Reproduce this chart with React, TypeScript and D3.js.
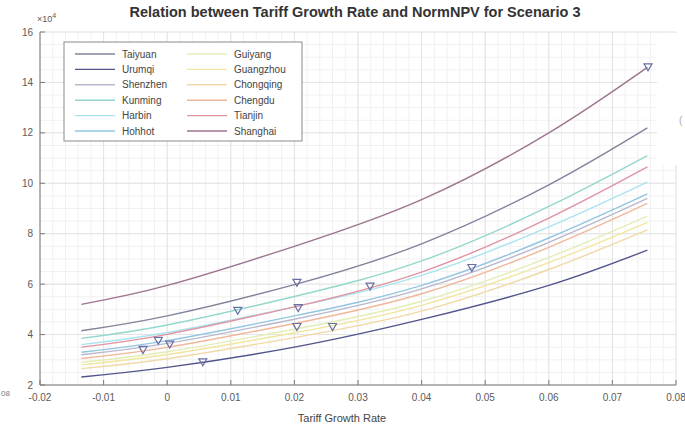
import React from "react";
import * as d3 from "d3";

// tariff growth rates sampled along each curve
const rates = [-0.0135, 0, 0.02, 0.04, 0.06, 0.0755];

// NormNPV (x 10^4) per city
const taiyuan = [4.15, 4.74, 5.98, 7.6, 9.94, 12.2];
const urumqi = [2.32, 2.7, 3.5, 4.6, 5.95, 7.35];
const shenzhen = [3.2, 3.65, 4.61, 5.81, 7.66, 9.4];
const kunming = [3.85, 4.38, 5.51, 6.92, 9.08, 11.1];
const harbin = [3.6, 4.08, 5.1, 6.35, 8.27, 10.05];
const hohhot = [3.3, 3.76, 4.74, 5.95, 7.83, 9.58];
const guiyang = [2.9, 3.32, 4.21, 5.32, 7.06, 8.7];
const guangzhou = [2.8, 3.21, 4.07, 5.16, 6.85, 8.45];
const chongqing = [2.65, 3.04, 3.88, 4.93, 6.58, 8.15];
const chengdu = [3.05, 3.49, 4.44, 5.62, 7.46, 9.2];
const tianjin = [3.5, 4.01, 5.1, 6.48, 8.62, 10.65];
const shanghai = [5.2, 5.95, 7.5, 9.35, 12.0, 14.6];

const cities = [
  "Taiyuan", "Urumqi", "Shenzhen", "Kunming", "Harbin", "Hohhot",
  "Guiyang", "Guangzhou", "Chongqing", "Chengdu", "Tianjin", "Shanghai",
];
const series = [
  taiyuan, urumqi, shenzhen, kunming, harbin, hohhot,
  guiyang, guangzhou, chongqing, chengdu, tianjin, shanghai,
];
const colors = [
  "#80849a", "#50548a", "#b8b8ce", "#94d8cc", "#aae4ef", "#92c6e2",
  "#e4edb6", "#f1e69e", "#f1d9a6", "#f1b79a", "#e094a2", "#9e7490",
];

// triangle markers (actual growth rate of each city)
const markerRates = [-0.0038, -0.0014, 0.0004, 0.0056, 0.0111, 0.0204, 0.0206, 0.0204, 0.026, 0.0319, 0.0479, 0.0756];
const markerValues = [3.39, 3.75, 3.6, 2.9, 4.94, 6.05, 5.05, 4.3, 4.3, 5.9, 6.64, 14.6];

const xTicks = [-0.02, -0.01, 0, 0.01, 0.02, 0.03, 0.04, 0.05, 0.06, 0.07, 0.08];
const xTickLabels = ["-0.02", "-0.01", "0", "0.01", "0.02", "0.03", "0.04", "0.05", "0.06", "0.07", "0.08"];
const yTicks = [2, 4, 6, 8, 10, 12, 14, 16];

const W = 685;
const H = 428;
const font = "'Liberation Sans', Arial, sans-serif";

export default function App() {
  const x = d3.scaleLinear().domain([-0.02, 0.08]).range([40, 676]);
  const y = d3.scaleLinear().domain([2, 16]).range([385, 32]);

  const line = d3
    .line<number>()
    .x((_, i) => x(rates[i]))
    .y((d) => y(d))
    .curve(d3.curveNatural);

  const xMinor = d3.range(-0.02, 0.0801, 0.002);
  const yMinor = d3.range(2, 16.01, 0.5);
  const [x0, x1] = x.range();
  const [y0, y1] = y.range();

  const legendX = 64;
  const legendY = 42;
  const rowH = 15.4;

  return (
    <svg
      width={W}
      height={H}
      style={{ position: "absolute", left: 0, top: 0, background: "#fff" }}
      fontFamily={font}
    >
      {/* grid */}
      <g>
        {xMinor.map((v, i) => (
          <line key={"xm" + i} x1={x(v)} x2={x(v)} y1={y1} y2={y0} stroke="#f1f1f1" />
        ))}
        {yMinor.map((v, i) => (
          <line key={"ym" + i} x1={x0} x2={x1} y1={y(v)} y2={y(v)} stroke="#f1f1f1" />
        ))}
        {xTicks.map((v, i) => (
          <line key={"xg" + i} x1={x(v)} x2={x(v)} y1={y1} y2={y0} stroke="#e4e4e4" />
        ))}
        {yTicks.map((v, i) => (
          <line key={"yg" + i} x1={x0} x2={x1} y1={y(v)} y2={y(v)} stroke="#e4e4e4" />
        ))}
      </g>

      {/* curves */}
      <g fill="none">
        {series.map((s, i) => (
          <path key={cities[i]} d={line(s) || ""} stroke={colors[i]} strokeWidth={1.4} />
        ))}
      </g>

      {/* markers */}
      <g fill="none" stroke="#6a6fa5" strokeWidth={1.2}>
        {markerRates.map((r, i) => (
          <path
            key={"m" + i}
            transform={`translate(${x(r)},${y(markerValues[i])})`}
            d="M-4,-3.5L4,-3.5L0,3.5Z"
          />
        ))}
      </g>

      {/* axes */}
      <g stroke="#7a7a7a" fill="none">
        <line x1={x0} x2={x0} y1={y1} y2={y0} />
        <line x1={x0} x2={x1} y1={y0} y2={y0} />
        {xTicks.map((v, i) => (
          <line key={"xt" + i} x1={x(v)} x2={x(v)} y1={y0} y2={y0 - 5} />
        ))}
        {yTicks.map((v, i) => (
          <line key={"yt" + i} x1={x0} x2={x0 + 5} y1={y(v)} y2={y(v)} />
        ))}
      </g>
      <g fontSize={10} fill="#5a5a5a">
        {xTicks.map((v, i) => (
          <text key={"xl" + i} x={x(v)} y={401} textAnchor="middle">
            {xTickLabels[i]}
          </text>
        ))}
        {yTicks.map((v) => (
          <text key={"yl" + v} x={33} y={y(v) + 3.5} textAnchor="end">
            {v}
          </text>
        ))}
      </g>
      <text x={37} y={22} fontSize={9} fill="#5a5a5a">
        ×10
        <tspan dy={-4} fontSize={7}>4</tspan>
      </text>

      {/* labels */}
      <text x={355} y={17} textAnchor="middle" fontSize={14.5} fontWeight="bold" fill="#333">
        Relation between Tariff Growth Rate and NormNPV for Scenario 3
      </text>
      <text x={342} y={422} textAnchor="middle" fontSize={11} fill="#444">
        Tariff Growth Rate
      </text>
      <text x={1} y={396} fontSize={8} fill="#777">
        08
      </text>

      {/* legend */}
      <g>
        <rect x={legendX} y={legendY} width={238} height={99} fill="#fff" stroke="#8a8a8a" />
        {cities.map((c, i) => {
          const col = Math.floor(i / 6);
          const row = i % 6;
          const lx = legendX + 11 + col * 112;
          const ly = legendY + 12 + row * rowH;
          return (
            <g key={"lg" + c}>
              <line x1={lx} x2={lx + 40} y1={ly} y2={ly} stroke={colors[i]} strokeWidth={1.4} />
              <text x={lx + 47} y={ly + 3.5} fontSize={10} fill="#444">
                {c}
              </text>
            </g>
          );
        })}
      </g>

      {/* clipped neighbour window on the right */}
      <rect x={657} y={33} width={28} height={132} fill="#fff" />
      <text x={679} y={124} fontSize={10} fill="#aaa">(</text>
    </svg>
  );
}
